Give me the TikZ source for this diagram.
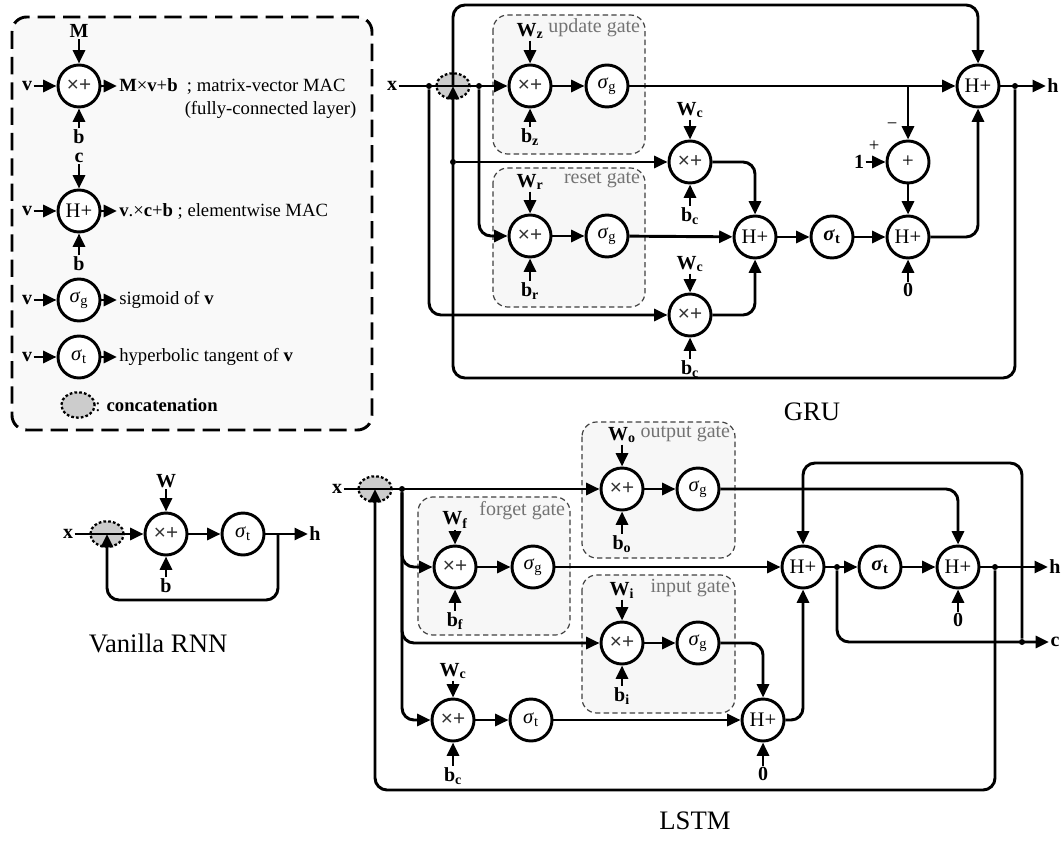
\documentclass[tikz,border=0pt]{standalone}
\usepackage{fontspec}
\setmainfont{Liberation Serif}
\newfontfamily\opfont{Liberation Sans}
\usetikzlibrary{arrows.meta,shapes.geometric}

\newcommand{\mac}{{\opfont\color{black!80}×+}}
\newcommand{\sigg}{\textit{σ}\textsubscript{g}}
\newcommand{\sigt}{\textit{σ}\textsubscript{t}}
\newcommand{\bsigt}{\textbf{\textit{σ}\textsubscript{t}}}

\begin{document}
\begin{tikzpicture}[x=0.75pt, y=-0.75pt,
    every node/.style={font=\fontsize{14}{16}\selectfont},
    op/.style={circle, draw, line width=2.2pt, fill=white, minimum size=31.5pt, inner sep=0pt, font=\fontsize{15.5}{17}\selectfont},
    lbl/.style={font=\fontsize{15}{17}\selectfont\bfseries, inner sep=1pt},
    wire/.style={line width=2.2pt, -{Triangle[length=10pt,width=9pt]}},
    cat/.style={ellipse, draw, line width=1.7pt, dash pattern=on 2pt off 1.6pt, fill=gray!40,
                minimum width=25pt, minimum height=19pt, inner sep=0pt},
    gatebox/.style={draw=black!75, line width=0.9pt, dash pattern=on 4pt off 2.5pt, fill=gray!6, rounded corners=11pt},
    gatename/.style={text=black!55, font=\fontsize{15}{17}\selectfont, anchor=north east, inner sep=2pt},
    jn/.style={circle, fill, inner sep=0pt, minimum size=4.5pt},
    heading/.style={font=\fontsize{20}{22}\selectfont}
  ]
  \useasboundingbox (0,0) rectangle (1062,841);

  % legend
  \draw[line width=2.2pt, dash pattern=on 13pt off 6pt, fill=gray!5, rounded corners=11pt] (12,17) rectangle (372,430);
  \node[op] (kmac) at (79,86) {\mac};
  \node[lbl] (kM) at (79,31) {M};
  \node[lbl] (kb1) at (79,137) {b};
  \node[lbl] (kv1) at (27,86) {v};
  \node[anchor=west, inner sep=1.5pt] (kt1) at (117,86) {\textbf{M}×\textbf{v}+\textbf{b}~~; matrix-vector MAC};
  \node[anchor=east] (kt1b) at (361,110) {(fully-connected layer)};
  \draw[wire] (kM) -- (kmac);
  \draw[wire] (kb1) -- (kmac);
  \draw[wire] (kv1) -- (kmac);
  \draw[wire] (kmac) -- (kt1);

  \node[op] (khad) at (79,211) {H+};
  \node[lbl] (kc) at (79,158) {c};
  \node[lbl] (kb2) at (79,264) {b};
  \node[lbl] (kv2) at (27,211) {v};
  \node[anchor=west, inner sep=1.5pt] (kt2) at (117,211) {\textbf{v}.×\textbf{c}+\textbf{b} ; elementwise MAC};
  \draw[wire] (kc) -- (khad);
  \draw[wire] (kb2) -- (khad);
  \draw[wire] (kv2) -- (khad);
  \draw[wire] (khad) -- (kt2);

  \node[op] (ksg) at (79,300) {\sigg};
  \node[lbl] (kv3) at (27,300) {v};
  \node[anchor=west, inner sep=1.5pt] (kt3) at (117,300) {sigmoid of \textbf{v}};
  \draw[wire] (kv3) -- (ksg);
  \draw[wire] (ksg) -- (kt3);

  \node[op] (kst) at (79,357) {\sigt};
  \node[lbl] (kv4) at (27,357) {v};
  \node[anchor=west, inner sep=1.5pt] (kt4) at (117,357) {hyperbolic tangent of \textbf{v}};
  \draw[wire] (kv4) -- (kst);
  \draw[wire] (kst) -- (kt4);

  \node[cat] (kcat) at (78,405) {};
  \node[anchor=west, inner sep=0pt] (kt5) at (95,405) {: \textbf{concatenation}};

  % vanilla RNN
  \node[lbl] (rx) at (68,534) {x};
  \node[cat] (rcat) at (107,534) {};
  \node[op] (rmac) at (166,534) {\mac};
  \node[lbl] (rW) at (166,481) {W};
  \node[lbl] (rb) at (166,586) {b};
  \node[op] (rst) at (243,534) {\sigt};
  \node[lbl] (rh) at (315,534) {h};
  \coordinate (rd) at (278,534);
  \draw[wire] (rx) -- (rmac);
  \draw[wire] (rW) -- (rmac);
  \draw[wire] (rb) -- (rmac);
  \draw[wire] (rmac) -- (rst);
  \draw[wire] (rst) -- (rh);
  \draw[wire, rounded corners=9pt] (rd) -- ++(0,66) -| (rcat.center);
  \node[heading] (rname) at (158,643) {Vanilla RNN};

  % GRU
  \draw[gatebox] (493,15) rectangle (645,154);
  \node[gatename] (gzname) at (643,16) {update gate};
  \draw[gatebox] (493,168) rectangle (645,307);
  \node[gatename] (grname) at (643,169) {reset gate};

  \node[lbl] (gx) at (392,86) {x};
  \node[cat] (gcat) at (453,86) {};
  \node[jn] (gd1) at (429,86) {};
  \node[jn] (gd2) at (479,86) {};
  \node[op] (gzmac) at (530,86) {\mac};
  \node[op] (gzsg) at (607,86) {\sigg};
  \node[lbl] (gWz) at (530,31) {W\textsubscript{z}};
  \node[lbl] (gbz) at (530,137) {b\textsubscript{z}};
  \node[op] (grmac) at (530,236) {\mac};
  \node[op] (grsg) at (607,236) {\sigg};
  \node[lbl] (gWr) at (530,182) {W\textsubscript{r}};
  \node[lbl] (gbr) at (530,291) {b\textsubscript{r}};
  \node[op] (gc1) at (690,162) {\mac};
  \node[lbl] (gWc1) at (690,110) {W\textsubscript{c}};
  \node[lbl] (gbc1) at (690,216) {b\textsubscript{c}};
  \node[op] (gc2) at (690,315) {\mac};
  \node[lbl] (gWc2) at (690,264) {W\textsubscript{c}};
  \node[lbl] (gbc2) at (690,369) {b\textsubscript{c}};
  \node[op] (ghad1) at (755,237) {H+};
  \node[op] (gst) at (832,237) {\bsigt};
  \node[op] (ghad2) at (908,237) {H+};
  \node[lbl] (g0) at (908,290) {0};
  \node[op] (gsub) at (908,162) {+};
  \node[lbl] (g1) at (859,162) {1};
  \node (gplus) at (874,146) {+};
  \node (gminus) at (892,126) {−};
  \node[op] (gout) at (978,86) {H+};
  \node[jn] (gd3) at (1015,86) {};
  \node[jn] (gd4) at (453,162) {};
  \node[lbl] (gh) at (1053,86) {h};

  \draw[wire] (gx) -- (gzmac);
  \draw[wire] (gWz) -- (gzmac);
  \draw[wire] (gbz) -- (gzmac);
  \draw[wire] (gzmac) -- (gzsg);
  \draw[wire] (gWr) -- (grmac);
  \draw[wire] (gbr) -- (grmac);
  \draw[wire] (grmac) -- (grsg);
  \draw[wire, rounded corners=9pt] (gd2) |- (grmac);
  \draw[wire, rounded corners=9pt] (gd1) |- (gc2);
  \draw[wire] (gd4) -- (gc1);
  \draw[wire] (gWc1) -- (gc1);
  \draw[wire] (gbc1) -- (gc1);
  \draw[wire] (gWc2) -- (gc2);
  \draw[wire] (gbc2) -- (gc2);
  \draw[wire, rounded corners=9pt] (gc1) -| (ghad1);
  \draw[wire, rounded corners=9pt] (gc2) -| (ghad1);
  \draw[wire] (grsg) -- (ghad1);
  \draw[wire] (ghad1) -- (gst);
  \draw[wire] (gst) -- (ghad2);
  \draw[wire] (g0) -- (ghad2);
  \draw[wire] (gzsg) -- (gout);
  \draw[wire] (gzsg -| gsub) -- (gsub);
  \draw[wire] (g1) -- (gsub);
  \draw[wire] (gsub) -- (ghad2);
  \draw[wire, rounded corners=9pt] (ghad2) -| (gout);
  \draw[wire] (gout) -- (gh);
  \draw[wire, rounded corners=9pt] (gd3) -- ++(0,292) -| (gcat.center);
  \draw[wire, rounded corners=9pt] (gcat.center) -- ++(0,-81) -| (gout);
  \node[heading] (gname) at (812,412) {GRU};

  % LSTM
  \draw[gatebox] (582,422) rectangle (735,558);
  \node[gatename] (loname) at (733,423) {output gate};
  \draw[gatebox] (418,497) rectangle (570,635);
  \node[gatename] (lfname) at (568,498) {forget gate};
  \draw[gatebox] (582,575) rectangle (735,713);
  \node[gatename] (liname) at (733,576) {input gate};

  \node[lbl] (lx) at (337,489) {x};
  \node[cat] (lcat) at (375,489) {};
  \node[jn] (ld1) at (402,489) {};
  \node[op] (lomac) at (622,489) {\mac};
  \node[op] (losg) at (698,489) {\sigg};
  \node[lbl] (lWo) at (622,435) {W\textsubscript{o}};
  \node[lbl] (lbo) at (622,544) {b\textsubscript{o}};
  \node[op] (lfmac) at (455,567) {\mac};
  \node[op] (lfsg) at (533,567) {\sigg};
  \node[lbl] (lWf) at (455,520) {W\textsubscript{f}};
  \node[lbl] (lbf) at (455,621) {b\textsubscript{f}};
  \node[op] (limac) at (622,643) {\mac};
  \node[op] (lisg) at (698,643) {\sigg};
  \node[lbl] (lWi) at (622,590) {W\textsubscript{i}};
  \node[lbl] (lbi) at (622,696) {b\textsubscript{i}};
  \node[op] (lcmac) at (453,720) {\mac};
  \node[op] (lcst) at (531,720) {\sigt};
  \node[lbl] (lWc) at (453,671) {W\textsubscript{c}};
  \node[lbl] (lbc) at (453,776) {b\textsubscript{c}};
  \node[op] (lhad1) at (763,720) {H+};
  \node[lbl] (l0a) at (763,774) {0};
  \node[op] (lhad2) at (803,567) {H+};
  \node[jn] (ld2) at (837,567) {};
  \node[op] (lst) at (880,567) {\bsigt};
  \node[op] (lhad3) at (958,567) {H+};
  \node[lbl] (l0b) at (958,620) {0};
  \node[jn] (ld3) at (995,567) {};
  \node[jn] (ld4) at (1022,642) {};
  \node[lbl] (lh) at (1055,567) {h};
  \node[lbl] (lc) at (1055,642) {c};

  \draw[wire] (lx) -- (lomac);
  \draw[wire] (lWo) -- (lomac);
  \draw[wire] (lbo) -- (lomac);
  \draw[wire] (lomac) -- (losg);
  \draw[wire, rounded corners=9pt] (ld1) |- (lfmac);
  \draw[wire, rounded corners=9pt] (ld1) |- (limac);
  \draw[wire, rounded corners=9pt] (ld1) |- (lcmac);
  \draw[wire] (lWf) -- (lfmac);
  \draw[wire] (lbf) -- (lfmac);
  \draw[wire] (lfmac) -- (lfsg);
  \draw[wire] (lWi) -- (limac);
  \draw[wire] (lbi) -- (limac);
  \draw[wire] (limac) -- (lisg);
  \draw[wire] (lWc) -- (lcmac);
  \draw[wire] (lbc) -- (lcmac);
  \draw[wire] (lcmac) -- (lcst);
  \draw[wire] (lcst) -- (lhad1);
  \draw[wire] (l0a) -- (lhad1);
  \draw[wire, rounded corners=9pt] (lisg) -| (lhad1);
  \draw[wire, rounded corners=9pt] (lhad1) -| (lhad2);
  \draw[wire] (lfsg) -- (lhad2);
  \draw[wire] (lhad2) -- (lst);
  \draw[wire] (lst) -- (lhad3);
  \draw[wire] (l0b) -- (lhad3);
  \draw[wire, rounded corners=9pt] (losg) -| (lhad3);
  \draw[wire] (lhad3) -- (lh);
  \draw[wire, rounded corners=9pt] (ld2) |- (lc);
  \draw[wire, rounded corners=9pt] (ld4) -- ++(0,-179) -| (lhad2);
  \draw[wire, rounded corners=9pt] (ld3) -- ++(0,223) -| (lcat.center);
  \node[heading] (lname) at (695,821) {LSTM};
\end{tikzpicture}
\end{document}
